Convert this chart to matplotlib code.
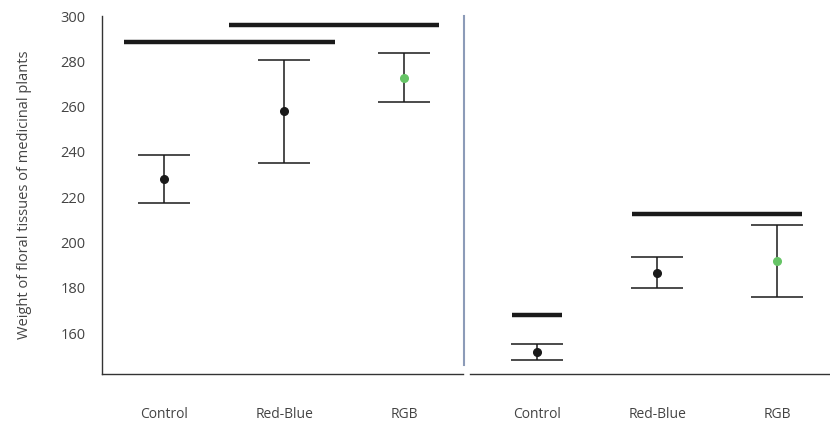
import numpy as np
import matplotlib.pyplot as plt

plt.rcParams['font.family'] = ['Open Sans', 'DejaVu Sans']

# data
categories = ['Control', 'Red-Blue', 'RGB']

left_mean = [228.0, 258.0, 272.6]
left_low = [217.4, 235.3, 261.8]
left_high = [238.6, 280.6, 283.7]
left_colors = ['#1a1a1a', '#1a1a1a', '#66c466']
# significance bars: (start, end in category units, y level)
left_bars = [(-0.33, 1.42, 288.7), (0.54, 2.29, 296.0)]

right_mean = [151.7, 186.5, 191.6]
right_low = [148.1, 179.9, 175.7]
right_high = [155.2, 193.4, 207.7]
right_colors = ['#1a1a1a', '#1a1a1a', '#66c466']
right_bars = [(-0.21, 0.21, 167.8), (0.79, 2.21, 212.4)]

yticks = [160, 180, 200, 220, 240, 260, 280, 300]
ylabel = 'Weight of floral tissues of medicinal plants'

txt = '#444444'

fig = plt.figure(figsize=(8.3, 4.25), dpi=100)
ax1 = fig.add_axes([102/830, 51/425, 361/830, 358/425])
ax2 = fig.add_axes([470/830, 51/425, 360/830, 358/425])


def panel(ax, mean, low, high, colors, bars, xlim):
    x = np.arange(len(categories))
    for i in range(len(x)):
        ax.errorbar(x[i], mean[i],
                    yerr=[[mean[i] - low[i]], [high[i] - mean[i]]],
                    fmt='o', color=colors[i], ecolor='#1a1a1a',
                    elinewidth=1.1, capsize=18.5, capthick=1.1,
                    markersize=5.5)
    for s, e, y in bars:
        ax.plot([s, e], [y, y], color='#1a1a1a', lw=3.2,
                solid_capstyle='butt')
    ax.set_xlim(*xlim)
    ax.set_ylim(141.9, 300)
    ax.set_xticks(x)
    ax.set_xticklabels(categories, color=txt, fontsize=10)
    ax.tick_params(axis='x', length=0, pad=24)
    for sp in ['top', 'right']:
        ax.spines[sp].set_visible(False)
    ax.spines['bottom'].set_color('#333333')
    ax.spines['bottom'].set_linewidth(1.0)


panel(ax1, left_mean, left_low, left_high, left_colors, left_bars,
      (-0.517, 2.49))
panel(ax2, right_mean, right_low, right_high, right_colors, right_bars,
      (-0.558, 2.44))

ax1.set_yticks(yticks)
ax1.set_yticklabels([str(v) for v in yticks], color=txt, fontsize=10.5)
ax1.tick_params(axis='y', length=0, pad=12)
ax1.spines['left'].set_color('#333333')
ax1.spines['left'].set_linewidth(1.0)
ax1.set_ylabel(ylabel, color=txt, fontsize=10.5, labelpad=20)

ax2.set_yticks([])
ax2.spines['left'].set_position(('outward', 4))
ax2.spines['left'].set_bounds(146, 300)
ax2.spines['left'].set_color('#8c9bb8')
ax2.spines['left'].set_linewidth(1.5)

fig.savefig('out.png', dpi=100)
